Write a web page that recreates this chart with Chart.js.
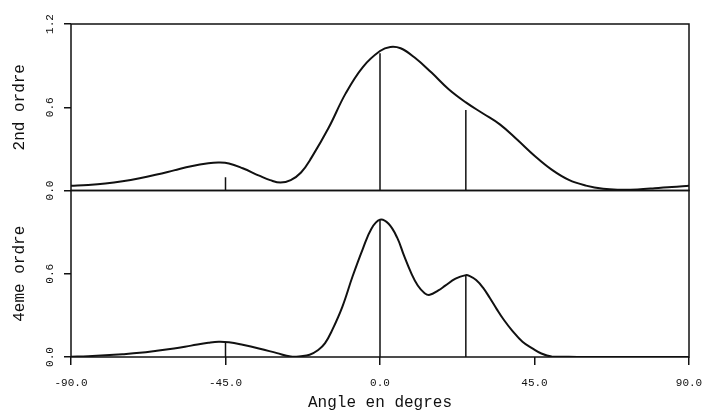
<!DOCTYPE html>
<html>
<head>
<meta charset="utf-8">
<script src="https://cdn.jsdelivr.net/npm/chart.js@4/dist/chart.umd.min.js"></script>
<style>
  html, body { margin: 0; padding: 0; background: #fff; }
  #wrap { width: 707px; height: 410px; }
</style>
</head>
<body>
<div id="wrap"><canvas id="chart"></canvas></div>
<script>
// angle (deg) and intensity
const anglesOrdre2 = [-90, -85, -80, -75, -70, -65, -60, -55, -50, -47, -44, -40, -35, -32, -29, -26, -23, -20, -15, -10, -5, 0, 3, 6, 10, 15, 20, 25, 30, 35, 40, 45, 50, 55, 60, 65, 70, 75, 80, 85, 90];
const valuesOrdre2 = [0.034, 0.040, 0.050, 0.066, 0.088, 0.115, 0.145, 0.175, 0.196, 0.201, 0.195, 0.160, 0.105, 0.075, 0.057, 0.075, 0.13, 0.235, 0.45, 0.70, 0.89, 1.005, 1.035, 1.025, 0.96, 0.85, 0.73, 0.635, 0.555, 0.475, 0.365, 0.25, 0.15, 0.076, 0.035, 0.012, 0.006, 0.008, 0.016, 0.026, 0.034];

const anglesOrdre4 = [-90, -85, -80, -75, -70, -65, -60, -55, -50, -47, -44, -40, -35, -30, -26, -23, -20.5, -18, -16, -14, -11, -8, -5, -2.5, 0, 2.5, 5, 7, 9, 11, 13, 14.5, 17, 19, 22, 25, 26, 28, 30, 32, 34, 36, 38.5, 41.5, 44.5, 47, 50, 55, 60, 70, 80, 90];
const valuesOrdre4 = [0.002, 0.006, 0.012, 0.020, 0.030, 0.045, 0.062, 0.082, 0.102, 0.110, 0.106, 0.088, 0.060, 0.028, 0.004, 0.006, 0.016, 0.05, 0.10, 0.19, 0.36, 0.58, 0.78, 0.925, 0.99, 0.96, 0.86, 0.73, 0.61, 0.515, 0.46, 0.448, 0.48, 0.514, 0.565, 0.59, 0.585, 0.555, 0.50, 0.425, 0.345, 0.27, 0.19, 0.11, 0.06, 0.025, 0.003, 0.001, 0, 0, 0, 0];

// vertical sticks
const stickAngles = [-45, 0, 25];
const sticksOrdre2 = [0.095, 0.99, 0.58];
const sticksOrdre4 = [0.107, 0.99, 0.59];

const xTicks = [-90, -45, 0, 45, 90];

const ink = "#111";
const mono = "'Liberation Mono', 'DejaVu Sans Mono', monospace";

function points(xs, ys) {
  return xs.map((x, i) => ({ x: x, y: ys[i] }));
}

function sticks(xs, ys) {
  const out = [];
  xs.forEach((x, i) => {
    out.push({ x: x, y: 0 }, { x: x, y: ys[i] }, { x: x, y: null });
  });
  return out;
}

const curveStyle = {
  type: "line",
  borderColor: ink,
  borderWidth: 2,
  pointRadius: 0,
  tension: 0.4,
  fill: false,
};

const stickStyle = {
  type: "line",
  borderColor: ink,
  borderWidth: 1.5,
  pointRadius: 0,
  tension: 0,
  spanGaps: false,
  fill: false,
};

function yAxis(title, dropTop) {
  return {
    type: "linear",
    position: "left",
    stack: "panels",
    stackWeight: 1,
    min: 0,
    max: 1.2,
    afterBuildTicks: (scale) => {
      scale.ticks = [0, 0.6, 1.2].map((v) => ({ value: v }));
    },
    afterFit: (scale) => { scale.width = 71; },
    border: { display: false },
    grid: { display: true, drawOnChartArea: false, drawTicks: true, tickLength: 7, color: ink, lineWidth: 1.5 },
    ticks: {
      minRotation: 90,
      maxRotation: 90,
      crossAlign: "center",
      padding: 4,
      color: ink,
      font: { family: mono, size: 11 },
      callback: (v) => (dropTop && v > 1.1 ? null : Number(v).toFixed(1)),
    },
    title: {
      display: true,
      text: title,
      color: ink,
      padding: { top: 10, bottom: 0 },
      font: { family: mono, size: 16 },
    },
  };
}

// frame each panel
const framePlugin = {
  id: "frames",
  afterDraw(chart) {
    const { ctx, chartArea } = chart;
    ctx.save();
    ctx.strokeStyle = ink;
    ctx.lineWidth = 1.5;
    ["yTop", "yBot"].forEach((id) => {
      const s = chart.scales[id];
      ctx.strokeRect(chartArea.left, s.top, chartArea.right - chartArea.left, s.bottom - s.top);
    });
    ctx.restore();
  },
};

new Chart(document.getElementById("chart"), {
  data: {
    datasets: [
      Object.assign({ label: "2nd ordre", data: points(anglesOrdre2, valuesOrdre2), yAxisID: "yTop" }, curveStyle),
      Object.assign({ label: "sticks 2nd", data: sticks(stickAngles, sticksOrdre2), yAxisID: "yTop" }, stickStyle),
      Object.assign({ label: "4eme ordre", data: points(anglesOrdre4, valuesOrdre4), yAxisID: "yBot" }, curveStyle),
      Object.assign({ label: "sticks 4eme", data: sticks(stickAngles, sticksOrdre4), yAxisID: "yBot" }, stickStyle),
    ],
  },
  options: {
    responsive: true,
    maintainAspectRatio: false,
    animation: false,
    layout: { padding: { top: 24, right: 18, bottom: 0, left: 0 } },
    plugins: { legend: { display: false }, tooltip: { enabled: false } },
    scales: {
      x: {
        type: "linear",
        position: "bottom",
        min: -90,
        max: 90,
        afterBuildTicks: (scale) => {
          scale.ticks = xTicks.map((v) => ({ value: v }));
        },
        afterFit: (scale) => {
          scale.height = 53;
          scale.paddingLeft = 0;
          scale.paddingRight = 0;
        },
        border: { display: false },
        grid: { display: true, drawOnChartArea: false, drawTicks: true, tickLength: 8, color: ink, lineWidth: 1.5 },
        ticks: {
          maxRotation: 0,
          padding: 11,
          color: ink,
          font: { family: mono, size: 11 },
          callback: (v) => Number(v).toFixed(1),
        },
        title: {
          display: true,
          text: "Angle en degres",
          color: ink,
          padding: { top: 0, bottom: -2 },
          font: { family: mono, size: 16 },
        },
      },
      yBot: yAxis("4eme ordre", true),
      yTop: yAxis("2nd ordre", false),
    },
  },
  plugins: [framePlugin],
});
</script>
</body>
</html>
